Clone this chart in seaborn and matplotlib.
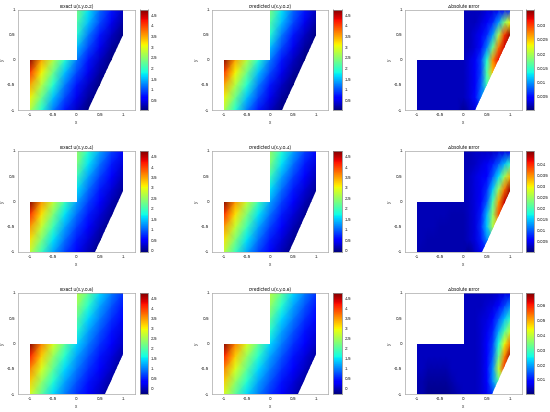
import numpy as np
import pandas as pd
import matplotlib
matplotlib.use('Agg')
import matplotlib.pyplot as plt
from matplotlib.patches import Polygon
import seaborn as sns

# grid nodes of the tables, rows go from y=-1 up to y=1
y_nodes = [-1, -0.75, -0.5, -0.25, 0, 0.25, 0.5, 0.75, 1]
x_exact = [-1, -0.75, -0.5, -0.25, 0, 0.25, 0.5, 0.75, 1]
x_error = [-1, -0.875, -0.75, -0.625, -0.5, -0.375, -0.25, -0.125, 0,
           0.125, 0.25, 0.375, 0.5, 0.625, 0.75, 0.875, 1]

exact_02 = [
    [2.7, 1.9, 1.2, 0.72, 0.3, 0.03, 0.03, 0.03, 0.03],
    [3.1, 2.3, 1.5, 0.95, 0.5, 0.15, 0.03, 0.03, 0.03],
    [3.5, 2.7, 1.9, 1.2, 0.72, 0.3, 0.03, 0.03, 0.03],
    [4.05, 3.1, 2.3, 1.5, 0.95, 0.5, 0.15, 0.03, 0.03],
    [4.7, 3.5, 2.7, 1.9, 1.2, 0.72, 0.3, 0.03, 0.03],
    [4.75, 4.05, 3.1, 2.3, 1.5, 0.95, 0.5, 0.15, 0.03],
    [4.75, 4.75, 3.5, 2.7, 1.9, 1.2, 0.72, 0.3, 0.03],
    [4.75, 4.75, 4.05, 3.1, 2.15, 1.5, 0.95, 0.5, 0.15],
    [4.75, 4.75, 4.75, 3.5, 2.4, 1.7, 1.1, 0.72, 0.3],
]
exact_04 = [
    [2.75, 1.95, 1.3, 0.82, 0.45, 0.13, -0.1, -0.1, -0.1],
    [3.15, 2.35, 1.6, 1.05, 0.62, 0.28, 0.0, -0.1, -0.1],
    [3.55, 2.75, 1.95, 1.3, 0.82, 0.45, 0.13, -0.1, -0.1],
    [4.1, 3.15, 2.35, 1.6, 1.05, 0.62, 0.28, 0.0, -0.1],
    [4.75, 3.55, 2.75, 1.95, 1.3, 0.82, 0.45, 0.13, -0.1],
    [4.75, 4.1, 3.15, 2.35, 1.6, 1.05, 0.62, 0.28, 0.0],
    [4.75, 4.75, 3.55, 2.75, 1.95, 1.3, 0.82, 0.45, 0.13],
    [4.75, 4.75, 4.1, 3.15, 2.35, 1.6, 1.05, 0.62, 0.28],
    [4.75, 4.75, 4.75, 3.55, 2.5, 1.8, 1.3, 0.82, 0.45],
]
exact_06 = [
    [2.8, 2.05, 1.4, 0.95, 0.58, 0.28, 0.0, -0.3, -0.3],
    [3.2, 2.4, 1.7, 1.15, 0.75, 0.42, 0.13, -0.15, -0.3],
    [3.6, 2.8, 2.05, 1.4, 0.95, 0.58, 0.28, 0.0, -0.3],
    [4.15, 3.2, 2.4, 1.7, 1.15, 0.75, 0.42, 0.13, -0.15],
    [4.75, 3.6, 2.8, 2.05, 1.4, 0.95, 0.58, 0.28, 0.0],
    [4.75, 4.15, 3.2, 2.4, 1.7, 1.15, 0.75, 0.42, 0.13],
    [4.75, 4.75, 3.6, 2.8, 2.05, 1.4, 0.95, 0.58, 0.28],
    [4.75, 4.75, 4.15, 3.2, 2.4, 1.7, 1.15, 0.75, 0.42],
    [4.75, 4.75, 4.75, 3.6, 2.6, 2.05, 1.4, 0.95, 0.58],
]
error_02 = [
    [.002, .002, .002, .002, .002, .002, .002, .002, .001, .002, .003, .005, .008, .01, .012, .015, .02],
    [.002, .002, .002, .002, .002, .002, .002, .002, .002, .003, .005, .009, .011, .014, .017, .02, .03],
    [.002, .002, .002, .002, .002, .002, .002, .002, .002, .003, .004, .008, .015, .02, .024, .027, .03],
    [.002, .002, .002, .002, .002, .002, .002, .002, .002, .003, .004, .007, .016, .025, .029, .03, .032],
    [.002, .002, .002, .002, .002, .002, .002, .002, .002, .003, .004, .007, .014, .027, .032, .034, .036],
    [.002, .002, .002, .002, .002, .002, .002, .002, .002, .002, .003, .005, .009, .017, .028, .033, .036],
    [.002, .002, .002, .002, .002, .002, .002, .002, .002, .002, .003, .004, .006, .01, .02, .03, .035],
    [.002, .002, .002, .002, .002, .002, .002, .002, .002, .002, .002, .003, .004, .006, .01, .018, .023],
    [.002, .002, .002, .002, .002, .002, .002, .002, .002, .002, .002, .002, .003, .003, .004, .005, .006],
]
error_04 = [
    [.0025, .002, .002, .002, .002, .002, .002, .002, .002, .001, .003, .005, .006, .008, .01, .015, .02],
    [.0025, .0025, .002, .002, .002, .002, .002, .002, .002, .003, .004, .007, .012, .014, .018, .022, .03],
    [.0025, .0025, .0025, .0025, .002, .002, .002, .002, .002, .003, .004, .008, .015, .026, .032, .036, .04],
    [.0025, .0025, .0025, .0025, .0025, .0025, .002, .002, .002, .003, .004, .007, .014, .024, .038, .043, .045],
    [.0025, .0025, .0025, .0025, .0025, .0025, .0025, .0025, .0025, .003, .004, .006, .01, .02, .034, .043, .046],
    [.0025, .0025, .0025, .0025, .0025, .0025, .0025, .0025, .0025, .003, .004, .005, .008, .015, .025, .036, .045],
    [.0025, .0025, .0025, .0025, .0025, .0025, .0025, .0025, .0025, .003, .004, .005, .006, .01, .016, .025, .033],
    [.0025, .0025, .0025, .0025, .0025, .0025, .0025, .0025, .0025, .0025, .003, .004, .005, .007, .01, .014, .019],
    [.0025, .0025, .0025, .0025, .0025, .0025, .0025, .0025, .0025, .0025, .003, .003, .003, .003, .004, .004, .005],
]
error_06 = [
    [.003, .003, .001, .001, .001, .001, .002, .003, .004, .004, .004, .005, .007, .012, .02, .035, .05],
    [.003, .003, .002, .002, .002, .002, .003, .004, .004, .004, .004, .005, .008, .018, .03, .045, .06],
    [.004, .004, .003, .003, .003, .003, .004, .004, .004, .004, .004, .005, .009, .018, .04, .058, .066],
    [.004, .004, .004, .004, .004, .004, .004, .004, .004, .004, .004, .005, .008, .015, .032, .052, .066],
    [.004, .004, .004, .004, .004, .004, .004, .004, .004, .004, .004, .005, .008, .013, .026, .043, .054],
    [.004, .004, .004, .004, .004, .004, .004, .004, .004, .004, .004, .005, .007, .011, .02, .03, .04],
    [.004, .004, .004, .004, .004, .004, .004, .004, .004, .004, .004, .005, .006, .009, .014, .021, .028],
    [.004, .004, .004, .004, .004, .004, .004, .004, .004, .004, .004, .004, .005, .006, .009, .013, .018],
    [.004, .004, .004, .004, .004, .004, .004, .004, .004, .004, .004, .004, .004, .004, .005, .006, .007],
]

times = ['0.2', '0.4', '0.6']
exact_tables = [exact_02, exact_04, exact_06]
error_tables = [error_02, error_04, error_06]
# colour ranges per row
exact_low = [0.02, -0.1, -0.3]
exact_high = [4.75, 4.75, 4.75]
error_high = [0.0355, 0.046, 0.068]
exact_ticks = [[0.5, 1, 1.5, 2, 2.5, 3, 3.5, 4, 4.5],
               [0, 0.5, 1, 1.5, 2, 2.5, 3, 3.5, 4, 4.5],
               [0, 0.5, 1, 1.5, 2, 2.5, 3, 3.5, 4, 4.5]]
error_ticks = [[0.005, 0.01, 0.015, 0.02, 0.025, 0.03],
               [0.005, 0.01, 0.015, 0.02, 0.025, 0.03, 0.035, 0.04],
               [0.01, 0.02, 0.03, 0.04, 0.05, 0.06]]
# where the slanted edge of the domain meets y=-1 and x=1
edge_bottom = [0.25, 0.4, 0.6]
edge_right = [0.5, 0.2, -0.2]

tick_vals = [-1, -0.5, 0, 0.5, 1]
tick_names = ['-1', '-0.5', '0', '0.5', '1']
col_left = [18, 212, 405]
col_right = [135, 328, 522]
cbar_left = [140, 333, 526]
cbar_right = [148, 342, 534]
row_top = [9.5, 151, 293]
row_bottom = [110, 252, 394]

W, H = 550, 412
GRAY = '#404040'
FS = 3.4

sns.set_theme(style='white', rc={'font.family': 'Liberation Sans',
                                 'text.hinting': 'native'})
fig = plt.figure(figsize=(W / 100, H / 100), dpi=100)


def draw_panel(row, col, table, xs, title, vmin, vmax, ticks):
    ax = fig.add_axes([col_left[col] / W, 1 - row_bottom[row] / H,
                       (col_right[col] - col_left[col]) / W,
                       (row_bottom[row] - row_top[row]) / H])
    cax = fig.add_axes([cbar_left[col] / W, 1 - row_bottom[row] / H,
                        (cbar_right[col] - cbar_left[col]) / W,
                        (row_bottom[row] - row_top[row]) / H])
    df = pd.DataFrame(table, index=y_nodes, columns=xs)
    sns.heatmap(df, ax=ax, cbar_ax=cax, cmap='jet', vmin=vmin, vmax=vmax,
                shading='gouraud', cbar_kws={'ticks': ticks, 'format': '%g'})

    # seaborn puts the gouraud nodes on 0..n-1
    def ix(v):
        return (np.asarray(v, dtype=float) + 1) * (len(xs) - 1) / 2

    def iy(v):
        return (np.asarray(v, dtype=float) + 1) * (len(y_nodes) - 1) / 2

    corners = [(-1, -1), (edge_bottom[row], -1), (1, edge_right[row]), (1, 1),
               (0, 1), (0, 0), (-1, 0)]
    outline = Polygon([(ix(a), iy(b)) for a, b in corners], closed=True,
                      transform=ax.transData, fill=False, edgecolor='none')
    ax.add_patch(outline)
    ax.collections[0].set_clip_path(outline)

    ax.set_xlim(ix(-1.25), ix(1.25))
    ax.set_ylim(iy(-1), iy(1))
    ax.set_xticks(ix(tick_vals), tick_names, rotation=0)
    ax.set_yticks(iy(tick_vals), tick_names, rotation=0)
    ax.set_title(title, fontsize=3.5, color='#222222', pad=1.2)
    ax.set_xlabel('x', fontsize=3.5, color=GRAY, labelpad=1.5)
    ax.set_ylabel('y', fontsize=3.5, color=GRAY, labelpad=1.5)
    ax.tick_params(length=1, width=0.3, direction='in', color=GRAY,
                   labelcolor=GRAY, labelsize=FS, pad=1.8)
    for side in ax.spines.values():
        side.set_visible(True)
        side.set_linewidth(0.4)
        side.set_color('#909090')

    cax.tick_params(length=1, width=0.3, direction='in', color=GRAY,
                    labelcolor=GRAY, labelsize=FS, pad=1.8)
    for side in cax.spines.values():
        side.set_visible(True)
        side.set_linewidth(0.4)
        side.set_color('#909090')


for i, t in enumerate(times):
    draw_panel(i, 0, exact_tables[i], x_exact, 'Exact u(x,y,%s)' % t,
               exact_low[i], exact_high[i], exact_ticks[i])
    draw_panel(i, 1, exact_tables[i], x_exact, 'Predicted u(x,y,%s)' % t,
               exact_low[i], exact_high[i], exact_ticks[i])
    draw_panel(i, 2, error_tables[i], x_error, 'Absolute Error',
               0.0002, error_high[i], error_ticks[i])

fig.savefig('out.png', dpi=100)
